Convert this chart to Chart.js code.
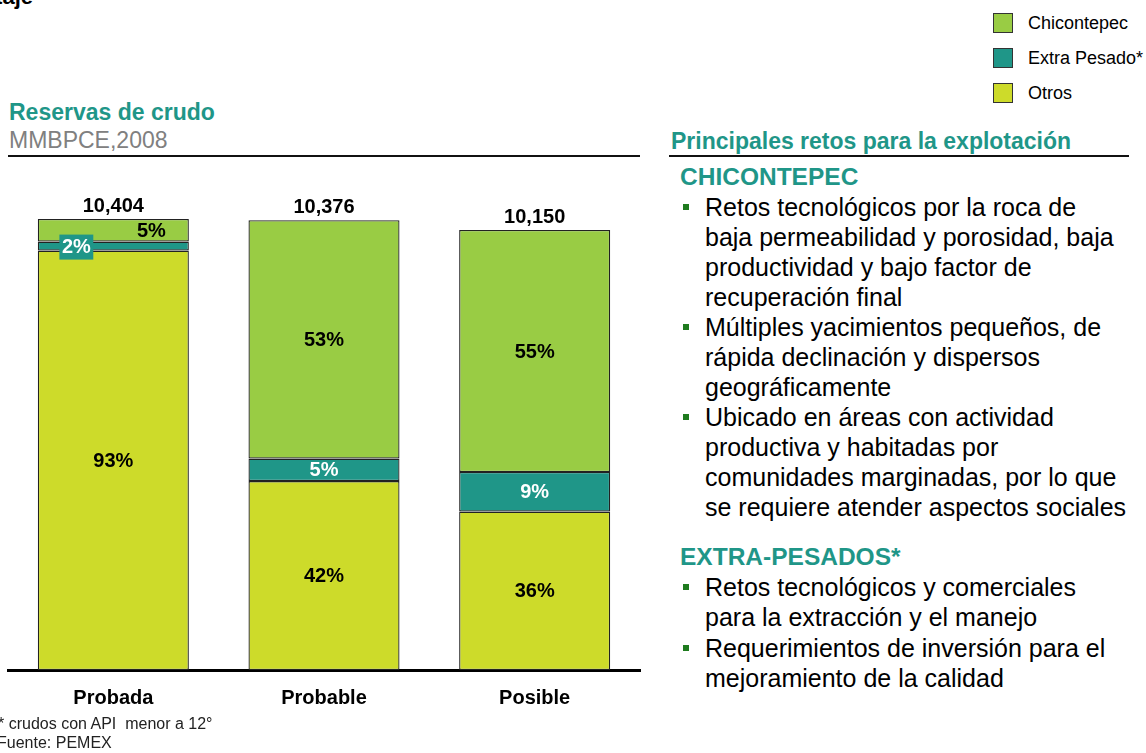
<!DOCTYPE html>
<html>
<head>
<meta charset="utf-8">
<script src="https://cdn.jsdelivr.net/npm/chart.js@4.4.1/dist/chart.umd.min.js"></script>
<style>
  body { margin: 0; width: 1146px; height: 753px; overflow: hidden; background: #fff; position: relative;
         font-family: 'Liberation Sans', Arial, sans-serif; color: #000; }
  .abs { position: absolute; white-space: nowrap; }
  .teal { color: #1F9688; font-weight: bold; }
  .rule { position: absolute; background: #111; height: 2px; }
  .legend-item { position: absolute; left: 993px; height: 20px; }
  .legend-item span.box { position: absolute; left: 0; top: 0; width: 18px; height: 18px; border: 1px solid #333; }
  .legend-item span.txt { position: absolute; left: 35px; top: -1px; font-size: 18px; line-height: 22px; white-space: nowrap; }
  .item { position: absolute; left: 705px; font-size: 25px; line-height: 30px; white-space: nowrap; }
  .item::before { content: ''; position: absolute; left: -22px; top: 12px; width: 6px; height: 6px; background: #1E7B1E; }
  #chartBox { position: absolute; left: 0; top: 0; width: 645px; height: 720px; }
</style>
</head>
<body>

<div class="abs" style="left:-200px; width:233px; text-align:right; top:-16px; font-size:22px; font-weight:bold;">Porcentaje</div>

<div id="legend"></div>

<div class="abs teal" style="left:9px; top:99px; font-size:23px; line-height:26px;">Reservas de crudo</div>
<div class="abs" style="left:9px; top:127px; font-size:23px; line-height:26px; color:#808080;">MMBPCE,2008</div>
<div class="rule" style="left:8px; top:155px; width:632px;"></div>

<div class="abs teal" style="left:671px; top:128px; font-size:23px; line-height:26px;">Principales retos para la explotación</div>
<div class="rule" style="left:669px; top:155px; width:460px;"></div>

<div class="abs teal" style="left:680px; top:163px; font-size:24.5px; line-height:28px;">CHICONTEPEC</div>
<div class="item" style="top:191.5px;">Retos tecnológicos por la roca de<br>baja permeabilidad y porosidad, baja<br>productividad y bajo factor de<br>recuperación final</div>
<div class="item" style="top:311.5px;">Múltiples yacimientos pequeños, de<br>rápida declinación y dispersos<br>geográficamente</div>
<div class="item" style="top:401.5px;">Ubicado en áreas con actividad<br>productiva y habitadas por<br>comunidades marginadas, por lo que<br>se requiere atender aspectos sociales</div>

<div class="abs teal" style="left:680px; top:543px; font-size:24.5px; line-height:28px;">EXTRA-PESADOS*</div>
<div class="item" style="top:571.5px;">Retos tecnológicos y comerciales<br>para la extracción y el manejo</div>
<div class="item" style="top:632.5px;">Requerimientos de inversión para el<br>mejoramiento de la calidad</div>

<div id="chartBox"><canvas id="reservasChart" width="645" height="720"></canvas></div>

<div class="abs" style="left:-2px; top:714px; font-size:16px; line-height:20px; color:#222;">* crudos con API &nbsp;menor a 12°</div>
<div class="abs" style="left:-3px; top:733px; font-size:16px; line-height:20px; color:#222;">Fuente: PEMEX</div>

<script>
// -------- DATA --------
const categories = ['Probada', 'Probable', 'Posible'];
const totals = [10404, 10376, 10150];          // MMBPCE
const otrosPct = [93, 42, 36];
const extraPesadoPct = [2, 5, 9];
const chicontepecPct = [5, 53, 55];

const seriesNames = ['Chicontepec', 'Extra Pesado*', 'Otros'];
const seriesColors = ['#99CC44', '#1F9688', '#CDDB2A'];

// -------- LEGEND (html, top right) --------
const legendBox = document.getElementById('legend');
seriesNames.forEach((name, i) => {
  const item = document.createElement('div');
  item.className = 'legend-item';
  item.style.top = (13 + i * 35) + 'px';
  item.innerHTML = `<span class="box" style="background:${seriesColors[i]}"></span><span class="txt">${name}</span>`;
  legendBox.appendChild(item);
});

// -------- DATASETS (bottom to top) --------
const stackOrder = [
  { pct: otrosPct, color: seriesColors[2], name: seriesNames[2], text: '#000' },
  { pct: extraPesadoPct, color: seriesColors[1], name: seriesNames[1], text: '#fff' },
  { pct: chicontepecPct, color: seriesColors[0], name: seriesNames[0], text: '#000' }
];

const datasets = stackOrder.map(s => ({
  label: s.name,
  data: s.pct.map((p, i) => totals[i] * p / 100),
  pct: s.pct,
  textColor: s.text,
  backgroundColor: s.color,
  borderColor: '#222',
  borderWidth: 1.3,
  borderSkipped: false,
  categoryPercentage: 1,
  barPercentage: 0.717
}));

// labels that do not fit inside their thin segment get moved sideways
const labelShift = { '1-0': -37, '2-0': 38 };

const barLabels = {
  id: 'barLabels',
  afterDatasetsDraw(chart) {
    const ctx = chart.ctx;
    ctx.save();
    ctx.font = 'bold 20px "Liberation Sans", Arial, sans-serif';
    ctx.textAlign = 'center';
    ctx.textBaseline = 'middle';

    chart.data.datasets.forEach((ds, d) => {
      chart.getDatasetMeta(d).data.forEach((bar, i) => {
        const txt = ds.pct[i] + '%';
        const x = bar.x + (labelShift[d + '-' + i] || 0);
        const y = (bar.y + bar.base) / 2 + 1;
        if (Math.abs(bar.base - bar.y) < 16) {
          const w = ctx.measureText(txt).width + 5;
          ctx.fillStyle = ds.backgroundColor;
          ctx.fillRect(x - w / 2, y - 12.5, w, 25);
        }
        ctx.fillStyle = ds.textColor;
        ctx.fillText(txt, x, y);
      });
    });

    // totals above each stack
    const topMeta = chart.getDatasetMeta(chart.data.datasets.length - 1);
    ctx.fillStyle = '#000';
    topMeta.data.forEach((bar, i) => {
      ctx.fillText(totals[i].toLocaleString('en-US'), bar.x, bar.y - 13);
    });
    ctx.restore();
  }
};

new Chart(document.getElementById('reservasChart'), {
  type: 'bar',
  data: { labels: categories, datasets },
  options: {
    responsive: false,
    animation: false,
    devicePixelRatio: 1,
    layout: { padding: { left: 8, right: 5, top: 193.2, bottom: 0 } },
    scales: {
      x: {
        stacked: true,
        grid: { display: false, drawTicks: false },
        border: { display: true, color: '#000', width: 3 },
        ticks: {
          color: '#000',
          padding: 16,
          font: { family: '"Liberation Sans Narrow", "Liberation Sans", Arial, sans-serif', size: 20, weight: 'bold' }
        },
        afterFit: scale => { scale.height = 50; }
      },
      y: {
        stacked: true,
        display: false,
        min: 0,
        max: 11000
      }
    },
    plugins: {
      legend: { display: false },
      tooltip: { enabled: false }
    }
  },
  plugins: [barLabels]
});
</script>
</body>
</html>
